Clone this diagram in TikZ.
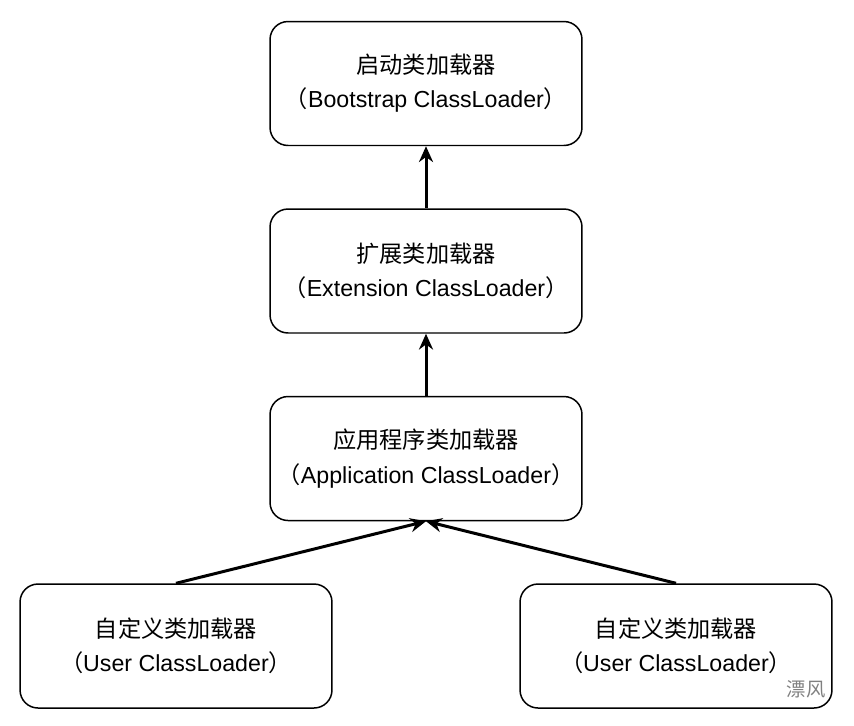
\documentclass[tikz,border=0pt]{standalone}
\usepackage{fontspec}
\setmainfont{Liberation Sans}
\newfontfamily\cjk{Noto Sans CJK SC}
\usetikzlibrary{arrows.meta}
\begin{document}
\begin{tikzpicture}[x=0.02cm,y=-0.02cm,
  box/.style={draw,line width=0.85pt,rounded corners=0.36cm,minimum width=6.24cm,minimum height=2.48cm,align=center,font=\fontsize{13.2pt}{19.5pt}\selectfont},
  arr/.style={line width=1.7pt,-{Stealth[length=9pt,width=8pt]}}]
\useasboundingbox (0,0) rectangle (854,725);
\node[box] (boot) at (426,83.5) {{\cjk 启动类加载器}\\{\cjk （}Bootstrap ClassLoader{\cjk ）}};
\node[box] (ext) at (426,271) {{\cjk 扩展类加载器}\\{\cjk （}Extension ClassLoader{\cjk ）}};
\node[box] (app) at (426,458.5) {{\cjk 应用程序类加载器}\\{\cjk （}Application ClassLoader{\cjk ）}};
\node[box] (u1) at (176,646) {{\cjk 自定义类加载器}\\{\cjk （}User ClassLoader{\cjk ）}};
\node[box] (u2) at (676,646) {{\cjk 自定义类加载器}\\{\cjk （}User ClassLoader{\cjk ）}};
\draw[arr] (ext.north) -- (boot.south);
\draw[arr] (app.north) -- (ext.south);
\draw[arr] (u1.north) -- (app.south);
\draw[arr] (u2.north) -- (app.south);
\node[text=gray,font=\cjk\fontsize{11pt}{13pt}\selectfont] (wm) at (806,689) {漂风};
\end{tikzpicture}
\end{document}
